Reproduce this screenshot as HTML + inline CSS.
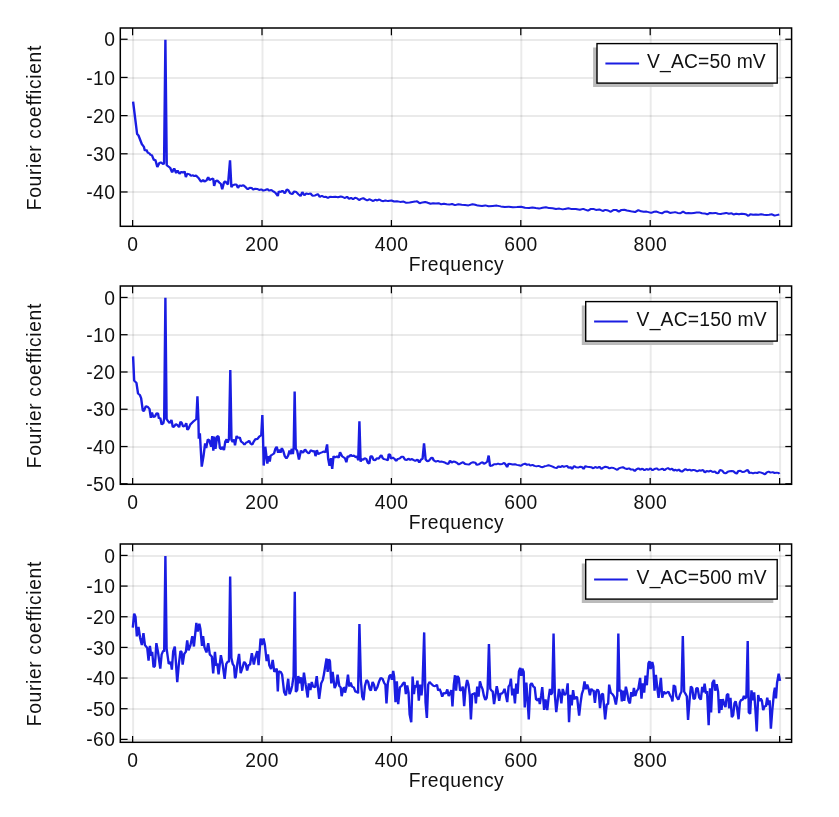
<!DOCTYPE html>
<html><head><meta charset="utf-8"><title>Fourier coefficient vs Frequency</title>
<style>html,body{margin:0;padding:0;background:#fff}body{width:839px;height:817px;overflow:hidden}svg{display:block;will-change:transform}
text{font-family:"Liberation Sans",sans-serif;font-size:19.30px;fill:#111}
.xt{letter-spacing:0.5px}.yt{letter-spacing:0.5px}.xl{letter-spacing:0.5px}.yl{letter-spacing:0.64px}.lg{letter-spacing:0.3px}
.g{stroke:rgba(0,0,0,0.082);stroke-width:2;fill:none}.t{stroke:#000;stroke-width:1.25;fill:none}.f{stroke:#000;stroke-width:1.5;fill:none}
.d{stroke:#1a1de2;stroke-width:2;fill:none;stroke-linejoin:bevel;stroke-linecap:butt}
</style></head><body>
<svg width="839" height="817" viewBox="0 0 839 817">
<rect width="839" height="817" fill="#fff"/>
<g>
<line class="g" x1="133.10" y1="28.00" x2="133.10" y2="226.30"/>
<line class="g" x1="262.50" y1="28.00" x2="262.50" y2="226.30"/>
<line class="g" x1="391.90" y1="28.00" x2="391.90" y2="226.30"/>
<line class="g" x1="521.30" y1="28.00" x2="521.30" y2="226.30"/>
<line class="g" x1="650.70" y1="28.00" x2="650.70" y2="226.30"/>
<line class="g" x1="780.10" y1="28.00" x2="780.10" y2="226.30"/>
<line class="g" x1="120.30" y1="40.00" x2="791.60" y2="40.00"/>
<line class="g" x1="120.30" y1="78.00" x2="791.60" y2="78.00"/>
<line class="g" x1="120.30" y1="116.00" x2="791.60" y2="116.00"/>
<line class="g" x1="120.30" y1="154.00" x2="791.60" y2="154.00"/>
<line class="g" x1="120.30" y1="192.00" x2="791.60" y2="192.00"/>
<polyline class="d" transform="scale(1.20 1)" points="110.90,101.7 114.26,134.0 115.39,135.4 118.19,144.1 119.88,146.8 120.77,150.9 121.89,149.5 123.24,152.9 124.36,153.2 125.49,154.9 126.61,155.3 128.29,160.3 129.41,159.6 131.10,167.0 132.78,163.0 133.90,162.3 136.14,164.3 136.71,163.0 137.83,39.8 138.95,165.3 141.75,167.7 143.44,172.4 145.12,168.4 146.80,173.1 147.93,170.4 149.61,173.8 151.29,171.7 152.41,172.8 153.87,171.5 154.88,177.1 156.00,173.8 158.02,174.4 159.15,175.8 160.83,175.1 161.95,176.2 163.30,175.5 165.32,177.8 167.56,181.8 169.24,179.8 170.37,181.8 172.05,180.5 173.51,177.1 174.63,180.1 175.98,179.2 177.66,178.5 178.45,185.9 179.57,181.2 181.03,180.5 182.71,182.5 184.06,183.9 185.18,189.3 186.64,182.5 187.76,181.2 188.88,183.2 190.00,184.5 191.69,160.3 192.81,187.2 193.93,185.2 195.84,184.5 196.96,184.4 198.30,188.0 199.76,185.3 200.88,186.0 202.79,185.3 204.81,187.3 206.49,189.3 208.18,187.7 209.86,188.0 210.98,189.7 212.66,188.7 214.35,188.9 216.03,190.0 217.71,189.3 219.40,190.7 221.08,190.0 222.76,189.1 224.45,190.7 226.13,190.0 227.81,191.4 229.49,192.7 231.51,196.1 232.30,191.4 233.98,192.0 235.33,190.7 237.35,193.4 239.03,189.3 240.15,190.0 241.84,193.4 243.52,194.1 245.20,191.4 246.89,192.0 248.57,194.1 250.48,196.1 251.93,192.0 253.62,195.4 255.30,193.4 256.98,194.1 258.67,193.4 260.35,195.7 262.59,195.4 264.84,194.1 266.52,197.0 268.20,195.7 269.89,197.0 271.57,196.7 273.25,198.1 274.94,196.7 277.18,197.0 279.42,196.7 281.67,197.2 283.91,196.5 285.60,197.0 287.50,198.1 289.18,196.7 290.87,198.8 292.55,197.8 294.23,199.2 295.92,197.8 297.60,198.4 299.28,200.1 300.96,198.8 302.65,198.1 304.33,199.4 306.01,200.5 307.70,199.2 309.38,200.1 311.06,201.1 312.75,199.7 314.43,200.5 316.11,199.4 317.79,200.8 319.48,201.2 321.16,200.5 323.41,201.1 326.21,200.5 328.45,201.5 330.70,201.2 333.50,201.9 336.31,201.6 338.55,202.8 341.36,202.4 343.60,201.9 345.85,201.6 347.53,201.2 349.77,203.2 352.02,202.4 354.26,201.9 356.50,202.8 358.75,203.7 360.99,203.2 363.24,203.5 365.48,203.2 367.73,204.3 369.97,203.7 372.21,204.3 374.46,204.6 376.70,204.0 379.17,205.1 381.97,204.3 384.78,204.8 387.58,205.1 390.39,205.4 393.75,204.3 396.00,204.8 398.24,205.6 401.61,205.9 404.41,205.4 407.22,206.2 410.58,205.9 413.95,205.6 417.32,206.4 420.68,207.0 424.05,206.7 427.41,207.2 430.78,207.0 434.15,206.7 437.51,207.8 440.88,208.1 443.68,207.5 446.49,208.1 449.29,208.6 452.10,207.8 454.90,207.2 457.71,208.1 460.51,208.3 463.32,208.9 466.12,208.6 468.93,209.4 470.84,208.9 473.64,208.3 476.44,209.1 479.81,209.1 483.18,209.7 485.98,208.9 487.66,209.7 489.91,210.7 492.15,209.1 494.40,208.9 496.64,209.9 499.45,209.4 502.25,211.0 504.49,209.9 506.74,210.5 508.98,211.8 511.23,209.9 513.47,209.9 515.71,211.6 517.96,209.9 520.20,209.7 522.45,210.5 524.69,211.0 526.93,211.6 529.18,212.1 531.98,210.2 534.23,211.3 536.47,211.8 538.72,211.6 540.40,212.1 542.64,212.9 544.89,211.8 547.13,211.6 549.38,212.6 551.62,213.4 553.86,211.8 556.11,211.6 558.35,212.9 560.60,212.6 562.50,212.1 564.74,212.9 566.99,213.2 569.23,211.6 571.48,213.2 573.72,212.9 575.96,213.2 578.21,212.9 580.45,212.6 582.70,212.4 584.94,213.2 587.18,213.4 589.43,214.3 591.67,212.9 593.92,213.2 596.16,212.9 598.41,213.7 600.65,214.0 602.89,213.4 605.14,212.9 607.38,213.7 609.63,213.2 611.31,214.5 613.55,213.7 615.80,214.3 618.04,213.7 620.28,214.0 621.97,214.5 623.65,215.9 625.33,214.3 627.58,214.8 629.82,214.5 632.07,214.8 634.31,214.3 636.55,214.8 638.80,215.1 641.04,214.8 643.29,214.3 645.53,215.6 647.21,215.1 649.46,214.5"/>
<rect class="f" x="120.30" y="28.00" width="671.30" height="198.30"/>
<line class="t" x1="132.60" y1="28.00" x2="132.60" y2="35.30"/>
<line class="t" x1="132.60" y1="226.30" x2="132.60" y2="220.00"/>
<line class="t" x1="262.00" y1="28.00" x2="262.00" y2="35.30"/>
<line class="t" x1="262.00" y1="226.30" x2="262.00" y2="220.00"/>
<line class="t" x1="391.40" y1="28.00" x2="391.40" y2="35.30"/>
<line class="t" x1="391.40" y1="226.30" x2="391.40" y2="220.00"/>
<line class="t" x1="520.80" y1="28.00" x2="520.80" y2="35.30"/>
<line class="t" x1="520.80" y1="226.30" x2="520.80" y2="220.00"/>
<line class="t" x1="650.20" y1="28.00" x2="650.20" y2="35.30"/>
<line class="t" x1="650.20" y1="226.30" x2="650.20" y2="220.00"/>
<line class="t" x1="779.60" y1="28.00" x2="779.60" y2="35.30"/>
<line class="t" x1="779.60" y1="226.30" x2="779.60" y2="220.00"/>
<line class="t" x1="120.30" y1="39.25" x2="127.60" y2="39.25"/>
<line class="t" x1="791.60" y1="39.25" x2="785.30" y2="39.25"/>
<line class="t" x1="120.30" y1="77.43" x2="127.60" y2="77.43"/>
<line class="t" x1="791.60" y1="77.43" x2="785.30" y2="77.43"/>
<line class="t" x1="120.30" y1="115.61" x2="127.60" y2="115.61"/>
<line class="t" x1="791.60" y1="115.61" x2="785.30" y2="115.61"/>
<line class="t" x1="120.30" y1="153.79" x2="127.60" y2="153.79"/>
<line class="t" x1="791.60" y1="153.79" x2="785.30" y2="153.79"/>
<line class="t" x1="120.30" y1="191.97" x2="127.60" y2="191.97"/>
<line class="t" x1="791.60" y1="191.97" x2="785.30" y2="191.97"/>
<text class="xt" x="132.80" y="250.80" text-anchor="middle">0</text>
<text class="xt" x="262.20" y="250.80" text-anchor="middle">200</text>
<text class="xt" x="391.60" y="250.80" text-anchor="middle">400</text>
<text class="xt" x="521.00" y="250.80" text-anchor="middle">600</text>
<text class="xt" x="650.40" y="250.80" text-anchor="middle">800</text>
<text class="yt" x="115.50" y="46.35" text-anchor="end">0</text>
<text class="yt" x="115.50" y="84.53" text-anchor="end">-10</text>
<text class="yt" x="115.50" y="122.71" text-anchor="end">-20</text>
<text class="yt" x="115.50" y="160.89" text-anchor="end">-30</text>
<text class="yt" x="115.50" y="199.07" text-anchor="end">-40</text>
<text class="xl" x="456.45" y="270.80" text-anchor="middle">Frequency</text>
<text class="yl" transform="translate(40.8 127.65) rotate(-90)" text-anchor="middle">Fourier coefficient</text>
<rect x="593.10" y="47.50" width="180.20" height="39.50" fill="#bbbbbb"/>
<rect x="597.00" y="43.60" width="180.20" height="39.50" fill="#fff" stroke="#000" stroke-width="1.4"/>
<line x1="605.40" y1="63.60" x2="639.10" y2="63.60" stroke="#1a1de2" stroke-width="2"/>
<text x="647.00" y="68.40" style="letter-spacing:0.15px">V_AC=50 mV</text>
</g>
<g>
<line class="g" x1="133.10" y1="286.00" x2="133.10" y2="484.30"/>
<line class="g" x1="262.50" y1="286.00" x2="262.50" y2="484.30"/>
<line class="g" x1="391.90" y1="286.00" x2="391.90" y2="484.30"/>
<line class="g" x1="521.30" y1="286.00" x2="521.30" y2="484.30"/>
<line class="g" x1="650.70" y1="286.00" x2="650.70" y2="484.30"/>
<line class="g" x1="780.10" y1="286.00" x2="780.10" y2="484.30"/>
<line class="g" x1="120.30" y1="298.00" x2="791.60" y2="298.00"/>
<line class="g" x1="120.30" y1="335.00" x2="791.60" y2="335.00"/>
<line class="g" x1="120.30" y1="372.00" x2="791.60" y2="372.00"/>
<line class="g" x1="120.30" y1="410.00" x2="791.60" y2="410.00"/>
<line class="g" x1="120.30" y1="447.00" x2="791.60" y2="447.00"/>
<line class="g" x1="120.30" y1="484.00" x2="791.60" y2="484.00"/>
<polyline class="d" transform="scale(1.20 1)" points="110.90,356.4 111.80,380.6 113.70,382.8 115.05,393.6 116.51,394.9 117.63,398.3 118.98,410.4 119.88,411.1 121.56,406.1 123.24,407.0 124.59,409.0 125.71,417.8 126.61,412.4 127.73,417.1 129.08,416.5 130.53,413.1 131.66,413.4 132.44,418.5 133.56,417.8 134.69,424.5 136.14,423.2 136.82,418.5 137.83,297.8 138.84,419.1 140.07,421.2 141.42,423.2 142.88,419.8 144.00,427.2 145.12,426.6 146.58,423.9 147.93,425.2 149.27,427.2 150.39,421.8 151.29,422.5 152.64,426.6 154.10,425.9 155.22,423.2 156.12,429.9 157.13,428.6 158.59,424.5 160.83,421.8 163.63,419.1 164.53,396.3 165.32,418.5 165.65,438.7 166.55,433.3 168.12,466.7 169.58,456.2 170.93,443.4 171.83,448.1 173.17,439.3 174.29,440.0 175.98,446.7 176.87,436.0 177.77,450.8 178.67,436.6 179.57,448.8 181.03,436.0 182.15,436.6 183.27,448.1 184.39,449.4 185.51,446.7 186.64,450.1 187.76,441.4 188.88,439.3 189.67,442.7 190.79,439.3 191.91,369.9 192.92,440.0 193.93,442.0 195.05,439.3 195.84,445.4 197.18,436.0 198.64,438.0 199.76,437.3 200.88,441.4 202.34,442.7 203.69,444.7 205.03,442.7 206.49,442.0 207.61,440.7 208.74,443.4 210.20,444.7 211.54,441.4 212.89,438.9 214.35,439.3 216.03,436.6 217.71,435.3 218.61,415.1 219.17,436.0 219.73,465.6 221.08,446.7 222.76,463.6 223.88,456.2 224.78,461.6 225.57,455.5 226.69,454.8 228.37,453.5 229.49,448.8 230.62,446.7 231.74,452.8 232.86,449.4 233.76,452.8 234.88,448.1 236.00,450.8 237.35,456.2 238.69,458.6 240.15,455.5 241.28,450.5 242.06,454.2 243.18,448.8 244.08,454.2 244.75,447.4 245.54,391.5 246.44,448.8 247.67,450.8 249.13,459.5 250.81,450.5 252.50,452.8 254.18,449.4 255.86,452.1 257.32,453.5 259.23,450.1 260.69,451.5 262.03,450.8 262.93,456.2 264.05,450.1 265.17,454.2 266.52,453.2 268.20,452.4 269.89,451.5 271.23,452.4 272.58,444.3 273.48,458.9 274.60,465.9 275.72,458.2 276.84,469.0 277.97,456.2 279.42,457.5 280.88,456.2 282.23,457.8 283.35,452.1 285.03,456.2 287.50,458.2 288.62,462.2 289.74,456.2 291.09,456.8 292.21,454.8 293.67,456.2 295.13,455.5 296.48,457.5 297.60,456.2 298.50,460.2 299.51,421.4 300.52,461.6 301.53,458.9 302.65,459.9 303.77,458.2 305.23,458.9 306.57,462.9 307.70,463.6 308.82,456.2 309.94,456.2 311.29,459.9 312.75,460.2 314.20,458.2 315.55,458.9 316.90,456.2 317.79,455.1 318.92,458.2 320.04,459.1 321.72,459.5 323.18,460.5 323.97,454.2 325.09,454.6 325.87,458.9 327.33,457.5 328.79,458.9 330.14,460.9 331.48,458.9 332.94,458.6 334.63,456.8 335.97,456.8 337.43,459.5 338.89,460.2 340.24,458.6 341.92,459.9 343.38,458.9 344.72,460.2 346.07,460.9 347.87,459.5 349.44,462.6 350.89,459.5 352.13,458.9 353.36,443.4 354.71,459.5 356.17,461.3 357.63,460.5 359.09,458.2 360.21,457.5 361.55,460.5 363.24,461.6 364.92,460.9 366.60,461.8 368.29,461.6 369.97,462.2 371.65,463.2 373.67,464.0 375.02,460.5 376.36,462.6 377.82,461.6 379.17,461.8 380.85,462.9 382.31,464.5 384.22,463.2 385.90,462.2 387.58,464.0 389.26,464.3 390.95,464.5 392.63,462.9 394.31,462.2 396.00,462.6 397.34,464.9 399.14,464.3 400.71,462.9 402.17,462.2 403.29,464.0 404.75,462.9 406.10,461.6 407.22,455.5 408.34,465.9 410.02,465.6 411.71,464.3 413.39,464.3 415.07,463.6 416.75,464.3 418.44,464.0 420.12,462.9 421.58,464.9 422.59,467.2 423.82,463.6 425.39,464.0 427.19,464.5 429.10,464.3 430.78,464.9 432.46,465.3 434.15,465.9 435.83,464.3 437.51,463.6 439.20,464.9 440.65,464.3 442.00,465.6 443.68,464.9 445.37,465.9 447.05,466.4 448.73,465.9 450.42,466.7 452.10,467.2 453.78,466.3 455.46,465.9 457.15,465.3 458.83,465.9 460.51,466.7 462.20,467.6 463.88,468.0 465.56,466.3 466.91,467.2 468.37,465.9 469.83,466.9 470.84,466.4 472.52,465.9 473.98,468.0 475.32,466.9 476.67,469.0 478.46,465.9 480.03,467.2 481.83,467.6 483.74,466.7 485.20,467.2 486.32,469.0 487.66,466.3 489.35,466.7 491.03,466.9 492.71,467.2 494.40,468.3 496.08,466.9 497.76,468.0 499.45,466.7 501.13,469.0 502.81,467.6 504.49,466.7 506.18,467.2 507.86,468.3 509.54,467.6 511.23,468.0 512.91,469.0 514.37,469.9 515.71,468.3 517.40,467.6 519.08,467.2 520.76,468.3 522.45,469.0 524.13,468.3 525.81,469.6 527.50,469.4 528.95,471.0 530.30,469.4 531.98,468.3 533.67,469.6 535.35,468.6 537.03,470.3 538.72,469.0 540.40,469.9 542.08,468.3 543.77,470.3 545.45,469.0 547.13,468.3 548.81,469.9 550.50,469.4 552.18,468.6 553.64,470.3 554.99,469.0 556.67,468.0 558.35,469.6 560.03,468.6 561.49,470.7 562.50,469.6 564.18,470.7 565.64,469.4 566.99,471.0 568.33,471.7 569.79,470.3 571.25,469.0 572.82,470.3 574.62,469.6 576.19,470.7 577.65,469.9 579.33,470.3 581.01,471.3 582.70,470.3 584.38,470.7 585.84,469.9 587.41,472.6 588.87,471.0 590.55,471.7 592.23,470.7 593.92,472.1 595.60,471.3 597.06,473.0 598.41,473.4 600.09,469.9 601.77,470.7 603.45,473.0 604.91,473.4 606.48,471.7 607.94,471.3 609.63,471.0 611.31,471.3 612.77,473.0 613.89,473.7 615.24,471.0 616.92,470.7 618.60,472.1 620.28,471.7 621.74,470.7 623.09,469.9 624.44,473.0 625.89,472.6 627.58,473.4 629.26,472.6 630.94,473.0 632.63,472.1 634.31,472.6 635.99,473.4 637.45,474.3 639.02,472.3 640.48,471.7 642.16,472.6 643.85,472.1 645.53,473.0 647.21,472.6 648.90,473.0 649.57,473.9"/>
<rect class="f" x="120.30" y="286.00" width="671.30" height="198.30"/>
<line class="t" x1="132.60" y1="286.00" x2="132.60" y2="293.30"/>
<line class="t" x1="132.60" y1="484.30" x2="132.60" y2="478.00"/>
<line class="t" x1="262.00" y1="286.00" x2="262.00" y2="293.30"/>
<line class="t" x1="262.00" y1="484.30" x2="262.00" y2="478.00"/>
<line class="t" x1="391.40" y1="286.00" x2="391.40" y2="293.30"/>
<line class="t" x1="391.40" y1="484.30" x2="391.40" y2="478.00"/>
<line class="t" x1="520.80" y1="286.00" x2="520.80" y2="293.30"/>
<line class="t" x1="520.80" y1="484.30" x2="520.80" y2="478.00"/>
<line class="t" x1="650.20" y1="286.00" x2="650.20" y2="293.30"/>
<line class="t" x1="650.20" y1="484.30" x2="650.20" y2="478.00"/>
<line class="t" x1="779.60" y1="286.00" x2="779.60" y2="293.30"/>
<line class="t" x1="779.60" y1="484.30" x2="779.60" y2="478.00"/>
<line class="t" x1="120.30" y1="297.45" x2="127.60" y2="297.45"/>
<line class="t" x1="791.60" y1="297.45" x2="785.30" y2="297.45"/>
<line class="t" x1="120.30" y1="334.72" x2="127.60" y2="334.72"/>
<line class="t" x1="791.60" y1="334.72" x2="785.30" y2="334.72"/>
<line class="t" x1="120.30" y1="371.99" x2="127.60" y2="371.99"/>
<line class="t" x1="791.60" y1="371.99" x2="785.30" y2="371.99"/>
<line class="t" x1="120.30" y1="409.26" x2="127.60" y2="409.26"/>
<line class="t" x1="791.60" y1="409.26" x2="785.30" y2="409.26"/>
<line class="t" x1="120.30" y1="446.53" x2="127.60" y2="446.53"/>
<line class="t" x1="791.60" y1="446.53" x2="785.30" y2="446.53"/>
<line class="t" x1="120.30" y1="483.80" x2="127.60" y2="483.80"/>
<line class="t" x1="791.60" y1="483.80" x2="785.30" y2="483.80"/>
<text class="xt" x="132.80" y="508.80" text-anchor="middle">0</text>
<text class="xt" x="262.20" y="508.80" text-anchor="middle">200</text>
<text class="xt" x="391.60" y="508.80" text-anchor="middle">400</text>
<text class="xt" x="521.00" y="508.80" text-anchor="middle">600</text>
<text class="xt" x="650.40" y="508.80" text-anchor="middle">800</text>
<text class="yt" x="115.50" y="304.55" text-anchor="end">0</text>
<text class="yt" x="115.50" y="341.82" text-anchor="end">-10</text>
<text class="yt" x="115.50" y="379.09" text-anchor="end">-20</text>
<text class="yt" x="115.50" y="416.36" text-anchor="end">-30</text>
<text class="yt" x="115.50" y="453.63" text-anchor="end">-40</text>
<text class="yt" x="115.50" y="490.90" text-anchor="end">-50</text>
<text class="xl" x="456.45" y="528.80" text-anchor="middle">Frequency</text>
<text class="yl" transform="translate(40.8 385.65) rotate(-90)" text-anchor="middle">Fourier coefficient</text>
<rect x="581.80" y="305.50" width="191.50" height="39.50" fill="#bbbbbb"/>
<rect x="585.70" y="301.60" width="191.50" height="39.50" fill="#fff" stroke="#000" stroke-width="1.4"/>
<line x1="594.10" y1="321.60" x2="627.80" y2="321.60" stroke="#1a1de2" stroke-width="2"/>
<text x="636.60" y="326.40" style="letter-spacing:0.20px">V_AC=150 mV</text>
</g>
<g>
<line class="g" x1="133.10" y1="544.00" x2="133.10" y2="742.30"/>
<line class="g" x1="262.50" y1="544.00" x2="262.50" y2="742.30"/>
<line class="g" x1="391.90" y1="544.00" x2="391.90" y2="742.30"/>
<line class="g" x1="521.30" y1="544.00" x2="521.30" y2="742.30"/>
<line class="g" x1="650.70" y1="544.00" x2="650.70" y2="742.30"/>
<line class="g" x1="780.10" y1="544.00" x2="780.10" y2="742.30"/>
<line class="g" x1="120.30" y1="556.00" x2="791.60" y2="556.00"/>
<line class="g" x1="120.30" y1="586.00" x2="791.60" y2="586.00"/>
<line class="g" x1="120.30" y1="617.00" x2="791.60" y2="617.00"/>
<line class="g" x1="120.30" y1="648.00" x2="791.60" y2="648.00"/>
<line class="g" x1="120.30" y1="678.00" x2="791.60" y2="678.00"/>
<line class="g" x1="120.30" y1="709.00" x2="791.60" y2="709.00"/>
<line class="g" x1="120.30" y1="740.00" x2="791.60" y2="740.00"/>
<polyline class="d" transform="scale(1.20 1)" points="110.67,627.6 111.80,613.5 112.92,616.8 114.04,636.4 115.39,626.9 116.73,637.7 118.19,645.1 119.54,633.0 120.77,645.1 122.68,647.8 123.80,660.6 124.92,645.8 126.05,655.9 126.83,651.8 127.95,667.3 129.08,666.0 130.31,643.1 131.66,651.8 133.56,668.7 134.69,654.5 136.14,650.5 136.82,651.8 137.83,556.0 138.84,648.5 140.63,664.0 142.32,661.9 143.21,669.7 144.34,651.2 145.68,646.5 147.70,682.1 149.05,664.0 150.39,651.2 151.29,651.8 152.19,664.6 153.54,653.9 154.88,651.8 156.00,640.4 157.13,650.5 158.59,645.8 160.27,636.1 161.61,646.5 163.63,622.9 164.76,631.6 166.10,623.6 167.00,628.9 168.35,645.8 169.24,636.1 170.37,647.1 172.05,652.5 173.51,643.1 174.85,654.5 176.54,656.6 177.66,673.4 179.12,651.8 180.24,666.0 181.03,663.3 182.15,674.3 184.06,655.2 185.51,664.0 187.20,678.8 188.54,664.0 190.00,661.3 190.79,662.2 191.80,576.6 192.81,657.9 193.93,664.0 195.05,666.0 195.84,678.1 196.39,677.3 197.85,663.2 199.20,653.8 200.55,673.3 202.00,667.9 203.46,661.8 204.81,663.9 205.93,670.6 207.05,665.2 208.40,664.5 209.86,653.1 211.54,664.5 212.66,657.8 214.35,651.1 215.47,665.2 217.15,638.5 218.27,645.0 219.62,638.5 220.74,645.0 222.20,661.2 223.32,654.4 224.45,665.5 225.90,669.2 227.25,659.8 228.60,671.9 230.62,668.6 231.51,691.5 232.30,671.3 233.98,671.9 235.10,674.6 236.79,692.1 238.25,695.5 240.15,678.7 241.28,694.2 242.40,690.8 243.52,685.4 244.64,676.0 245.65,591.7 246.55,692.1 247.67,690.1 248.57,676.0 249.69,683.4 250.81,677.3 251.93,690.8 253.28,672.6 254.74,684.7 256.42,697.5 257.32,683.4 258.67,690.1 259.79,682.0 260.91,686.7 262.59,687.4 263.94,676.0 265.96,698.9 267.64,683.4 268.99,680.0 269.89,674.6 272.13,658.5 273.03,671.9 274.15,659.1 274.94,661.2 276.06,683.4 277.18,671.9 278.86,688.1 280.21,684.7 281.33,674.6 282.79,686.1 283.91,687.4 284.70,696.2 286.16,688.1 287.50,687.4 287.50,692.7 288.62,687.3 289.97,674.5 291.09,686.6 292.21,682.6 293.33,686.6 294.79,687.3 296.25,692.0 297.37,691.4 298.38,693.4 299.51,624.0 300.74,680.6 301.86,696.7 302.98,700.1 304.11,686.0 305.45,679.9 306.80,681.9 308.03,688.7 309.04,690.7 310.50,681.9 311.62,684.6 312.75,690.7 314.43,687.3 315.78,681.9 317.23,677.9 318.69,678.6 320.26,683.3 321.16,684.6 322.06,703.5 323.18,683.3 324.53,675.9 325.65,674.5 326.55,679.9 327.67,670.9 328.45,676.6 329.58,702.1 330.70,681.3 331.82,704.2 333.28,687.3 334.63,686.0 335.97,683.3 337.09,682.2 338.22,694.1 339.34,685.3 340.46,692.7 341.36,714.3 342.70,722.3 343.83,676.6 344.95,694.1 345.85,685.3 346.97,687.3 347.87,680.6 348.99,700.8 350.11,684.6 351.23,695.4 352.13,684.6 353.48,632.4 354.60,702.1 355.72,718.0 356.84,684.6 357.96,681.9 359.53,684.0 360.99,685.7 362.68,686.2 364.13,684.6 365.14,690.7 366.27,688.7 367.39,692.0 368.51,696.7 369.97,692.7 371.43,693.8 372.77,689.3 373.90,696.1 375.24,692.7 376.14,690.0 377.04,706.4 378.16,684.6 379.17,675.2 380.06,690.7 381.19,675.9 382.31,677.9 383.43,690.7 384.55,690.0 385.67,686.6 386.80,706.2 387.92,688.7 389.26,679.9 390.39,684.6 391.51,695.4 392.41,719.4 393.53,694.1 394.88,693.8 395.77,692.7 396.56,703.5 397.68,686.6 398.80,696.7 399.92,681.3 401.05,686.0 402.17,689.3 403.29,696.1 404.41,700.1 405.53,698.1 406.32,690.0 407.44,644.0 408.56,688.7 409.69,690.7 410.58,691.4 411.71,704.2 412.83,695.4 413.95,686.2 414.85,691.4 415.97,700.8 417.09,693.4 418.21,693.8 419.34,692.0 420.46,688.7 421.58,695.4 422.70,702.1 423.82,686.6 424.95,684.6 425.73,678.6 426.85,695.4 427.98,688.7 429.10,703.5 430.22,683.6 431.34,693.8 432.46,671.2 433.59,667.8 434.37,675.9 435.27,668.5 436.39,671.8 437.29,707.5 438.63,682.6 439.76,702.1 440.65,719.4 442.00,684.6 443.12,683.0 444.47,686.6 445.59,687.3 446.71,699.4 448.17,700.8 448.96,698.1 449.85,704.2 450.98,695.4 451.87,687.1 453.45,709.9 454.57,699.4 456.03,710.2 457.15,698.1 458.27,688.9 459.06,694.7 460.18,692.7 461.30,633.5 462.42,695.4 463.54,712.2 464.67,700.8 465.79,688.9 466.91,694.7 467.81,703.5 468.93,688.9 470.05,693.4 470.84,695.4 470.83,694.1 471.96,693.4 473.08,683.3 474.20,722.3 475.32,694.7 476.44,705.5 477.57,690.0 478.69,699.4 480.03,696.7 480.93,697.4 482.61,715.6 483.74,703.5 484.86,694.1 485.98,690.0 487.10,681.3 488.22,689.3 489.35,684.6 490.47,688.7 491.59,695.4 492.71,688.7 493.83,690.7 494.62,690.0 495.74,702.8 496.86,691.4 497.99,689.3 498.88,691.4 500.01,708.2 501.35,694.1 502.47,693.8 504.27,719.4 505.62,704.2 506.74,704.2 507.64,684.6 508.98,692.7 510.33,694.1 511.79,696.7 513.25,704.6 514.37,695.4 515.27,633.5 516.28,691.4 517.40,689.7 518.18,701.5 519.31,690.7 520.20,700.8 521.55,686.6 522.67,692.7 523.79,700.8 524.92,703.5 526.04,692.0 527.16,696.7 528.28,688.0 529.40,696.1 530.53,691.4 531.98,688.7 533.44,677.9 534.56,698.8 535.69,683.3 536.81,692.7 537.93,675.5 539.05,685.3 540.40,663.1 541.30,661.1 542.19,669.1 543.54,662.0 544.44,666.5 545.45,690.7 546.57,674.9 547.69,687.3 548.81,697.8 550.72,677.9 551.84,697.8 553.30,691.4 554.42,693.8 555.55,692.7 557.01,691.6 558.35,695.4 559.47,697.4 560.37,701.5 561.49,684.9 562.50,690.0 562.50,685.6 563.62,696.4 565.31,699.7 566.76,694.3 567.89,691.6 569.01,636.0 570.13,691.6 571.48,694.3 572.37,696.4 573.38,719.9 574.62,700.4 575.74,686.3 576.86,688.0 577.98,699.1 579.11,698.4 580.23,688.3 581.35,688.0 582.70,697.7 584.04,699.7 585.17,686.9 586.06,692.3 587.18,683.6 588.31,693.7 589.20,691.0 590.55,725.3 591.67,688.3 592.57,712.5 593.69,682.9 595.04,679.9 595.94,690.7 597.28,684.2 598.41,691.6 599.30,713.2 600.42,699.1 601.21,709.8 602.33,699.1 603.45,703.8 604.58,707.1 605.70,695.0 606.82,693.7 607.61,708.5 608.73,697.7 609.85,717.2 610.97,715.2 612.09,703.1 612.99,701.1 614.11,707.1 615.46,719.3 616.58,702.4 617.70,699.7 618.83,700.1 619.95,695.7 620.85,698.8 621.97,697.0 623.09,640.9 623.99,712.5 625.11,713.9 626.23,690.3 627.35,700.4 628.48,692.3 629.60,711.2 630.61,731.4 631.84,695.0 632.96,701.1 633.86,698.4 634.87,700.4 635.99,710.1 637.45,705.8 638.24,706.5 639.36,697.7 640.48,705.1 641.38,700.4 642.39,728.7 643.51,711.2 644.97,693.0 645.75,687.6 646.65,698.4 647.55,682.9 648.90,673.7 650.02,680.9"/>
<rect class="f" x="120.30" y="544.00" width="671.30" height="198.30"/>
<line class="t" x1="132.60" y1="544.00" x2="132.60" y2="551.30"/>
<line class="t" x1="132.60" y1="742.30" x2="132.60" y2="736.00"/>
<line class="t" x1="262.00" y1="544.00" x2="262.00" y2="551.30"/>
<line class="t" x1="262.00" y1="742.30" x2="262.00" y2="736.00"/>
<line class="t" x1="391.40" y1="544.00" x2="391.40" y2="551.30"/>
<line class="t" x1="391.40" y1="742.30" x2="391.40" y2="736.00"/>
<line class="t" x1="520.80" y1="544.00" x2="520.80" y2="551.30"/>
<line class="t" x1="520.80" y1="742.30" x2="520.80" y2="736.00"/>
<line class="t" x1="650.20" y1="544.00" x2="650.20" y2="551.30"/>
<line class="t" x1="650.20" y1="742.30" x2="650.20" y2="736.00"/>
<line class="t" x1="779.60" y1="544.00" x2="779.60" y2="551.30"/>
<line class="t" x1="779.60" y1="742.30" x2="779.60" y2="736.00"/>
<line class="t" x1="120.30" y1="555.42" x2="127.60" y2="555.42"/>
<line class="t" x1="791.60" y1="555.42" x2="785.30" y2="555.42"/>
<line class="t" x1="120.30" y1="586.08" x2="127.60" y2="586.08"/>
<line class="t" x1="791.60" y1="586.08" x2="785.30" y2="586.08"/>
<line class="t" x1="120.30" y1="616.74" x2="127.60" y2="616.74"/>
<line class="t" x1="791.60" y1="616.74" x2="785.30" y2="616.74"/>
<line class="t" x1="120.30" y1="647.40" x2="127.60" y2="647.40"/>
<line class="t" x1="791.60" y1="647.40" x2="785.30" y2="647.40"/>
<line class="t" x1="120.30" y1="678.06" x2="127.60" y2="678.06"/>
<line class="t" x1="791.60" y1="678.06" x2="785.30" y2="678.06"/>
<line class="t" x1="120.30" y1="708.72" x2="127.60" y2="708.72"/>
<line class="t" x1="791.60" y1="708.72" x2="785.30" y2="708.72"/>
<line class="t" x1="120.30" y1="739.38" x2="127.60" y2="739.38"/>
<line class="t" x1="791.60" y1="739.38" x2="785.30" y2="739.38"/>
<text class="xt" x="132.80" y="766.80" text-anchor="middle">0</text>
<text class="xt" x="262.20" y="766.80" text-anchor="middle">200</text>
<text class="xt" x="391.60" y="766.80" text-anchor="middle">400</text>
<text class="xt" x="521.00" y="766.80" text-anchor="middle">600</text>
<text class="xt" x="650.40" y="766.80" text-anchor="middle">800</text>
<text class="yt" x="115.50" y="562.52" text-anchor="end">0</text>
<text class="yt" x="115.50" y="593.18" text-anchor="end">-10</text>
<text class="yt" x="115.50" y="623.84" text-anchor="end">-20</text>
<text class="yt" x="115.50" y="654.50" text-anchor="end">-30</text>
<text class="yt" x="115.50" y="685.16" text-anchor="end">-40</text>
<text class="yt" x="115.50" y="715.82" text-anchor="end">-50</text>
<text class="yt" x="115.50" y="746.48" text-anchor="end">-60</text>
<text class="xl" x="456.45" y="786.80" text-anchor="middle">Frequency</text>
<text class="yl" transform="translate(40.8 643.65) rotate(-90)" text-anchor="middle">Fourier coefficient</text>
<rect x="581.80" y="563.50" width="191.50" height="39.50" fill="#bbbbbb"/>
<rect x="585.70" y="559.60" width="191.50" height="39.50" fill="#fff" stroke="#000" stroke-width="1.4"/>
<line x1="594.10" y1="579.60" x2="627.80" y2="579.60" stroke="#1a1de2" stroke-width="2"/>
<text x="636.60" y="584.40" style="letter-spacing:0.20px">V_AC=500 mV</text>
</g>
</svg></body></html>
